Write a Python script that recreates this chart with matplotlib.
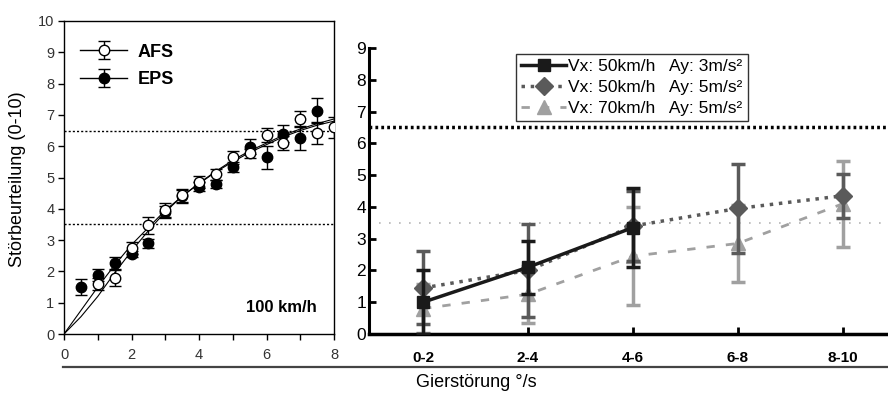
import numpy as np
import matplotlib.pyplot as plt
from matplotlib.lines import Line2D

plt.rcParams["font.family"] = ["Liberation Sans", "DejaVu Sans"]

# linkes Diagramm: 100 km/h, AFS vs. EPS
afs_x = [1, 1.5, 2, 2.5, 3, 3.5, 4, 4.5, 5, 5.5, 6, 6.5, 7, 7.5, 8]
afs_y = [1.6, 1.79, 2.74, 3.47, 3.95, 4.43, 4.86, 5.1, 5.64, 5.77, 6.36, 6.1, 6.86, 6.41, 6.6]
afs_err = [0.18, 0.27, 0.2, 0.27, 0.22, 0.2, 0.18, 0.18, 0.2, 0.15, 0.22, 0.22, 0.25, 0.35, 0.33]

eps_x = [0.5, 1, 1.5, 2, 2.5, 3, 3.5, 4, 4.5, 5, 5.5, 6, 6.5, 7, 7.5]
eps_y = [1.5, 1.88, 2.27, 2.56, 2.9, 3.9, 4.4, 4.71, 4.79, 5.33, 5.99, 5.64, 6.4, 6.26, 7.13]
eps_err = [0.25, 0.2, 0.18, 0.1, 0.15, 0.2, 0.2, 0.15, 0.14, 0.15, 0.25, 0.37, 0.27, 0.37, 0.4]

fit_x = [0, 0.5, 1, 1.5, 2, 2.5, 3, 3.5, 4, 4.5, 5, 5.5, 6, 6.5, 7, 7.5, 8]
fit_afs = [0, 0.75, 1.5, 2.2, 2.85, 3.4, 3.95, 4.4, 4.82, 5.2, 5.55, 5.85, 6.1, 6.35, 6.55, 6.72, 6.87]
fit_eps = [0, 0.55, 1.2, 1.95, 2.65, 3.3, 3.9, 4.4, 4.8, 5.18, 5.5, 5.8, 6.05, 6.3, 6.5, 6.67, 6.8]

# rechtes Diagramm: Gierstörung in Klassen
klassen = ["0-2", "2-4", "4-6", "6-8", "8-10"]
s1_y = [1.0, 2.1, 3.35]
s1_err = [1.0, 0.83, 1.25]
s2_y = [1.45, 2.0, 3.4, 3.95, 4.35]
s2_err = [1.15, 1.45, 1.1, 1.4, 0.7]
s3_y = [0.8, 1.25, 2.45, 2.85, 4.1]
s3_err = [0.78, 0.9, 1.55, 1.2, 1.35]
s_labels = ["Vx: 50km/h   Ay: 3m/s²", "Vx: 50km/h   Ay: 5m/s²", "Vx: 70km/h   Ay: 5m/s²"]

fig = plt.figure(figsize=(8.88, 3.94), dpi=100)
ax1 = fig.add_axes([64 / 888, 60 / 394, 270 / 888, 313 / 394])
ax2 = fig.add_axes([369 / 888, 60 / 394, 519 / 888, 286 / 394])

# --- links
ax1.plot(fit_x, fit_afs, color="black", lw=0.8)
ax1.plot(fit_x, fit_eps, color="black", lw=0.8)
ax1.axhline(6.5, color="black", lw=1, ls=(0, (1.5, 1.5)))
ax1.axhline(3.5, color="black", lw=1, ls=(0, (1.5, 1.5)))
eb = dict(color="black", ms=7.5, capsize=4, elinewidth=1, capthick=1)
ax1.errorbar(eps_x, eps_y, yerr=eps_err, fmt="o", mfc="black", zorder=3, **eb)
ax1.errorbar(afs_x, afs_y, yerr=afs_err, fmt="o", mfc="white", zorder=4, **eb)
# Legendeneinträge mit durchgezogener Linie
p_afs = ax1.errorbar([np.nan], [np.nan], yerr=[0.36], fmt="o-", mfc="white", lw=1, **eb)
p_eps = ax1.errorbar([np.nan], [np.nan], yerr=[0.36], fmt="o-", mfc="black", lw=1, **eb)
ax1.legend([p_afs, p_eps], ["AFS", "EPS"], loc="upper left", frameon=False,
           handlelength=2.6, prop={"weight": "bold", "size": 13}, borderaxespad=0.5,
           labelspacing=0.6, handletextpad=0.6, bbox_to_anchor=(0.0, 0.98))
ax1.text(6.43, 0.85, "100 km/h", fontsize=12, fontweight="bold", ha="center", va="center")
ax1.set_xlim(0, 8)
ax1.set_ylim(0, 10)
ax1.set_xticks([0, 2, 4, 6, 8])
ax1.set_xticks([1, 3, 5, 7], minor=True)
ax1.set_yticks(range(11))
ax1.tick_params(direction="out", length=4, width=1, labelsize=10.5, pad=3,
                labelcolor="#333333")
ax1.tick_params(axis="x", which="both", direction="out", length=4, width=1, pad=6)
for sp in ax1.spines.values():
    sp.set_linewidth(1)

# --- rechts
xk = np.arange(len(klassen))
ax2.axhline(6.5, color="black", lw=2.5, ls=(0, (0.8, 0.9)), zorder=1)
ax2.axhline(3.5, color="#b5b5b5", lw=1.2, ls=(0, (1, 5)), zorder=1)
st3 = dict(color="#a0a0a0", marker="^", ms=10, lw=2, ls=(0, (3, 4)))
st2 = dict(color="#5a5a5a", marker="D", ms=9, lw=2.5, ls=":")
st1 = dict(color="#1a1a1a", marker="s", ms=8, lw=2.5, ls="-")
ecap = dict(capsize=5, elinewidth=2.5, capthick=2.5)
ax2.errorbar(xk, s3_y, yerr=s3_err, zorder=2, **st3, **ecap)
ax2.errorbar(xk, s2_y, yerr=s2_err, zorder=3, **st2, **ecap)
ax2.errorbar(xk[:3], s1_y, yerr=s1_err, zorder=4, **st1, **ecap)
handles = [Line2D([], [], **st) for st in (st1, st2, st3)]
leg = ax2.legend(handles, s_labels, loc="upper left", bbox_to_anchor=(0.283, 0.979),
                 borderaxespad=0, fontsize=12.5, handlelength=2.6, handletextpad=0.1,
                 labelspacing=0.32, borderpad=0.3, fancybox=False, framealpha=1,
                 edgecolor="#333333")
leg.get_frame().set_linewidth(1)
ax2.set_xlim(-0.515, 4.43)
ax2.set_ylim(0, 9)
ax2.set_xticks(xk)
ax2.set_xticklabels(klassen, fontweight="bold", fontsize=11)
ax2.set_yticks(range(10))
ax2.tick_params(axis="y", direction="in", length=5, width=2, labelsize=12.5, pad=2)
ax2.tick_params(axis="x", direction="in", length=5, width=2, pad=12)
ax2.spines["top"].set_visible(False)
ax2.spines["right"].set_visible(False)
ax2.spines["left"].set_linewidth(2.2)
ax2.spines["bottom"].set_linewidth(2.5)

# gemeinsame Beschriftung
fig.add_artist(Line2D([63 / 888, 1.0], [27 / 394, 27 / 394], color="#444444", lw=1.6))
fig.text(476 / 888, 3 / 394, "Gierstörung °/s", fontsize=13, ha="center", va="bottom")
fig.text(18 / 888, 0.546, "Störbeurteilung (0-10)", fontsize=13, rotation=90,
         ha="center", va="center")

fig.savefig("out.png", dpi=100)
